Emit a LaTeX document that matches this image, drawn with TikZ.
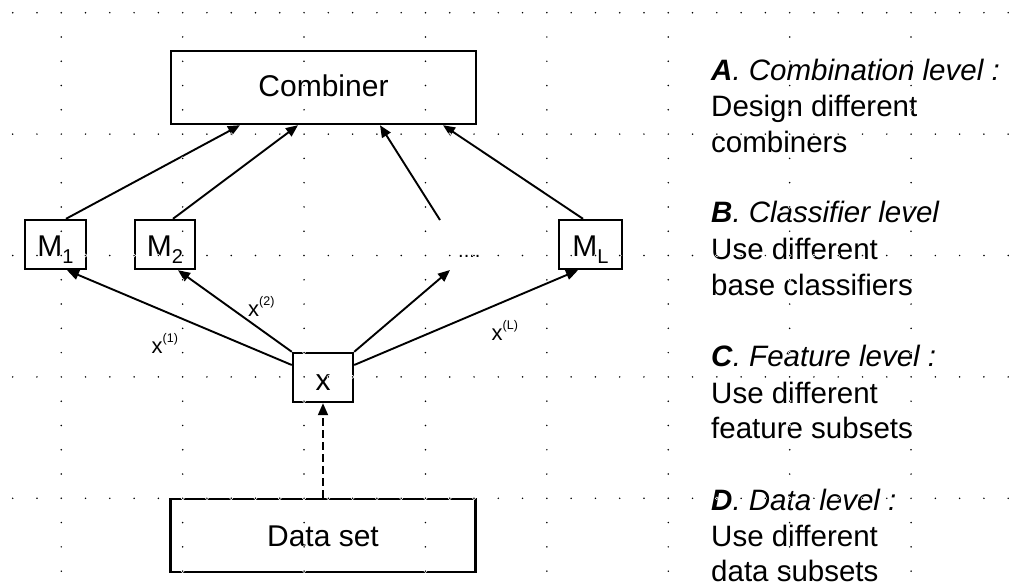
\documentclass[tikz,border=0pt]{standalone}
\usepackage{fontspec}
\setmainfont{Liberation Sans}
\usetikzlibrary{arrows.meta}
\newcommand\lowidx[1]{\raisebox{-7pt}{\fontsize{20}{20}\selectfont #1}}
\newcommand\upidx[1]{\raisebox{11pt}{\fontsize{12.5}{12.5}\selectfont #1}}
\begin{document}
\begin{tikzpicture}[x=1pt,y=-1pt,
  box/.style={draw, line width=2.4pt, inner sep=0pt, text depth=0pt,
    font=\fontsize{30}{36}\selectfont},
  arr/.style={line width=1.9pt, -{Triangle[length=12pt,width=10pt]}},
  lbl/.style={anchor=base west, inner sep=0pt, font=\fontsize{22}{24}\selectfont},
  side/.style={anchor=base west, inner sep=0pt, font=\fontsize{29.5}{36}\selectfont},
  halo/.style={fill=white},
  griddot/.style={fill=black},
]
\useasboundingbox (0,0) rectangle (1009,587);

% boxes of the ensemble scheme
\node[box, minimum width=305pt, minimum height=73.3pt, text height=17.5pt] (comb) at (323.5,87.35) {Combiner};
\node[box, minimum width=61pt, minimum height=49pt, text height=23pt] (m1) at (55.5,244.5) {M\lowidx{1}};
\node[box, minimum width=60pt, minimum height=49pt, text height=23pt] (m2) at (165,244.5) {M\lowidx{2}};
\node[box, minimum width=62.7pt, minimum height=49pt, text height=23pt] (mL) at (590.4,244.5) {M\lowidx{L}};
\node[anchor=base west, inner sep=0pt, font=\fontsize{20}{20}\selectfont] (dots) at (458,257) {....};
\node[box, minimum width=60pt, minimum height=49pt, text height=25pt] (xb) at (323,377.5) {x};
\node[box, minimum width=305pt, minimum height=72.7pt, text height=22pt] (data) at (323,535.4) {Data set};

% models feed the combiner
\draw[arr] ([xshift=10.5pt]m1.north) -- ([xshift=-83.5pt]comb.south);
\draw[arr] ([xshift=8pt]m2.north) -- ([xshift=-25.5pt]comb.south);
\draw[arr] ([shift={(-18,-37)}]dots.base west) -- ([xshift=56.5pt]comb.south);
\draw[arr] ([xshift=-7.4pt]mL.north) -- ([xshift=119.5pt]comb.south);

% feature subsets go to the models
\draw[arr] ([yshift=12.5pt]xb.west) -- ([xshift=11.5pt]m1.south);
\draw[arr] (xb.north west) -- ([xshift=13pt]m2.south);
\draw[arr] (xb.north east) -- ([shift={(-8,13)}]dots.base west);
\draw[arr] ([yshift=12.5pt]xb.east) -- ([xshift=-12.4pt]mL.south);

% data set to sample
\draw[arr, dash pattern=on 8pt off 4pt] (data.north) -- (xb.south);

% subset labels
\node[lbl] (l1) at (151.5,353) {x\upidx{(1)}};
\node[lbl] (l2) at (248,316.7) {x\upidx{(2)}};
\node[lbl] (lL) at (491.5,340) {x\upidx{(L)}};

% levels of diversity
\node[side] (a1) at (711,80) {\textbf{\textit{A}}\textit{. Combination level :}};
\node[side] (a2) at (711,116) {Design different};
\node[side] (a3) at (711,152) {combiners};
\node[side] (b1) at (711,222) {\textbf{\textit{B}}\textit{. Classifier level}};
\node[side] (b2) at (711,259) {Use different};
\node[side] (b3) at (711,295) {base classifiers};
\node[side] (c1) at (711,366.7) {\textbf{\textit{C}}\textit{. Feature level :}};
\node[side] (c2) at (711,403) {Use different};
\node[side] (c3) at (711,438) {feature subsets};
\node[side] (d1) at (711,510) {\textbf{\textit{D}}\textit{. Data level :}};
\node[side] (d2) at (711,546.7) {Use different};
\node[side] (d3) at (711,581.7) {data subsets};

% dotted page grid laid over everything
\foreach \j in {0,5,10,15,20}{
  \foreach \i in {0,...,41}{
    \fill[halo] ({12.7+24.28*\i},{12.7+24.28*\j}) circle (1.8pt);
    \fill[griddot] ({12.7+24.28*\i},{12.7+24.28*\j}) circle (0.85pt);
  }
}
\foreach \i in {2,7,12,17,22,27,32,37}{
  \foreach \j in {0,...,23}{
    \fill[halo] ({12.7+24.28*\i},{12.7+24.28*\j}) circle (1.8pt);
    \fill[griddot] ({12.7+24.28*\i},{12.7+24.28*\j}) circle (0.85pt);
  }
}
\end{tikzpicture}
\end{document}
